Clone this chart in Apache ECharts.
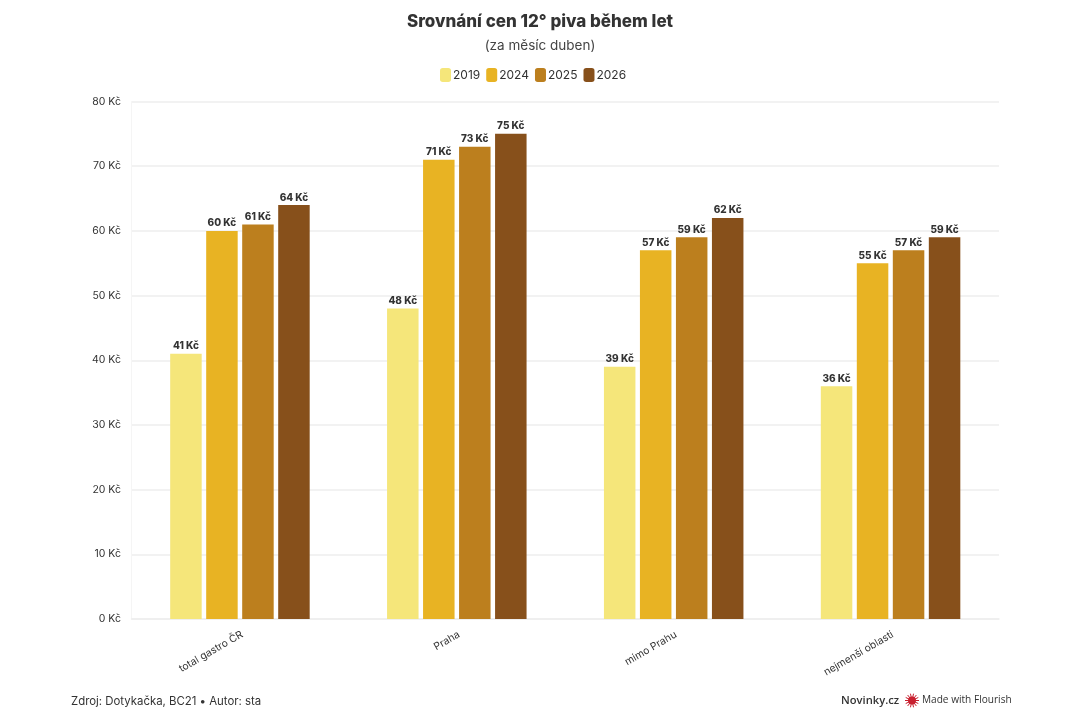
<!DOCTYPE html>
<html><head><meta charset="utf-8">
<style>html,body{margin:0;padding:0;background:#fff}#c{width:1080px;height:720px}</style>
<script src="https://cdn.jsdelivr.net/npm/echarts@6/dist/echarts.min.js"></script>
</head><body><div id="c"></div>
<script>
const categories = ['total gastro ČR','Praha','mimo Prahu','nejmenší oblasti'];
const years = ['2019','2024','2025','2026'];
const v2019 = [41,48,39,36];
const v2024 = [60,71,57,55];
const v2025 = [61,73,59,57];
const v2026 = [64,75,62,59];
const colors = ['#F5E67A','#E8B323','#BC7F1E','#87501B'];
const font = 'Inter, Roboto, sans-serif';
const seriesValues = [v2019,v2024,v2025,v2026];
const chart = echarts.init(document.getElementById('c'),null,{renderer:'canvas'});
const burst = [];
for (let i=0;i<14;i++){const a=i*Math.PI/7;burst.push({type:'line',shape:{x1:912+3*Math.cos(a),y1:700.5+3*Math.sin(a),x2:912+7*Math.cos(a),y2:700.5+7*Math.sin(a)},style:{stroke:'#C8202F',lineWidth:1}});}
chart.setOption({
  animation:false,
  backgroundColor:'#fff',
  title:{text:'Srovnání cen 12° piva během let',subtext:'(za měsíc duben)',left:'center',top:8,itemGap:9,
    textStyle:{fontFamily:font,fontSize:17,fontWeight:800,color:'#333'},
    subtextStyle:{fontFamily:font,fontSize:13.5,color:'#444'}},
  legend:{data:years,top:63,left:435,itemWidth:11,itemHeight:14,itemGap:6,icon:'roundRect',
    textStyle:{fontFamily:font,fontSize:12,color:'#333',padding:[0,0,0,-3]}},
  grid:{left:131.5,right:81,top:101.5,bottom:101,containLabel:false},
  xAxis:{type:'category',data:categories,
    axisLine:{lineStyle:{color:'#eee',width:1.5}},axisTick:{show:false},
    splitLine:{show:false},
    axisLabel:{rotate:30,margin:16,fontFamily:font,fontSize:10.3,color:'#333',interval:0,
      align:'right',padding:[0,-2.5,0,0]}},
  yAxis:{type:'value',min:0,max:80,interval:10,
    axisLine:{show:true,lineStyle:{color:'#f5f5f5',width:1}},axisTick:{show:false},
    splitLine:{lineStyle:{color:'#eee',width:1.5}},
    axisLabel:{formatter:'{value} Kč',margin:10.5,fontFamily:font,fontSize:10.5,color:'#333'}},
  series:years.map((y,i)=>({name:y,type:'bar',data:seriesValues[i],barWidth:31.5,barGap:'14.3%',
    itemStyle:{color:colors[i]},
    label:{show:true,position:'top',distance:2.5,formatter:'{c} Kč',fontFamily:font,fontSize:10,fontWeight:800,color:'#333'}})),
  graphic:[
    {type:'text',left:71,top:696,style:{text:'Zdroj: Dotykačka, BC21 • Autor: sta',font:'11.4px '+font,fill:'#333'}},
    {type:'text',left:841,top:695,style:{text:'Novinky.cz',font:'600 11.2px "Open Sans", sans-serif',fill:'#333'}},
    {type:'circle',shape:{cx:912,cy:700.5,r:4},style:{fill:'#C8202F'}},
    ...burst,
    {type:'text',left:922,top:695.5,style:{text:'Made with Flourish',font:'10.1px "Open Sans", sans-serif',fill:'#333'}}
  ]
});
</script></body></html>
